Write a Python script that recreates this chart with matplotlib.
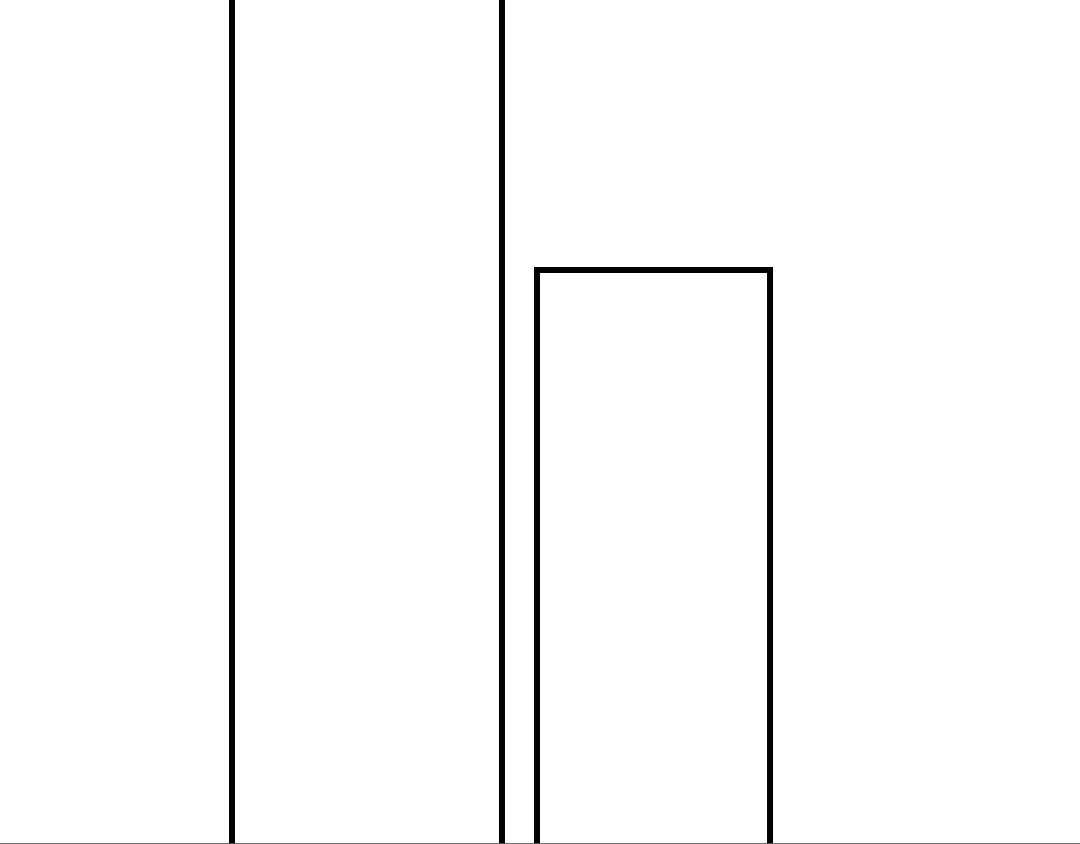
import matplotlib
matplotlib.use("Agg")
import matplotlib.pyplot as plt

# data
categories = ["A", "B"]
values = [126, 69]

# layout
lefts = [2.32, 5.37]
widths = [2.70, 2.33]

fig = plt.figure(figsize=(10.8, 8.44), dpi=100)
ax = fig.add_axes([0, 0, 1, 1])
ax.bar(lefts, values, width=widths, align="edge", bottom=-1.0,
       facecolor="white", edgecolor="black", linewidth=4.3, joinstyle="miter")
ax.set_xlim(0, 10.8)
ax.set_ylim(0, 100)
for s in ["top", "left", "right"]:
    ax.spines[s].set_visible(False)
ax.spines["bottom"].set_color("#555555")
ax.spines["bottom"].set_linewidth(1.2)
ax.set_xticks([])
ax.set_yticks([])
fig.savefig("out.png", dpi=100, facecolor="white")
